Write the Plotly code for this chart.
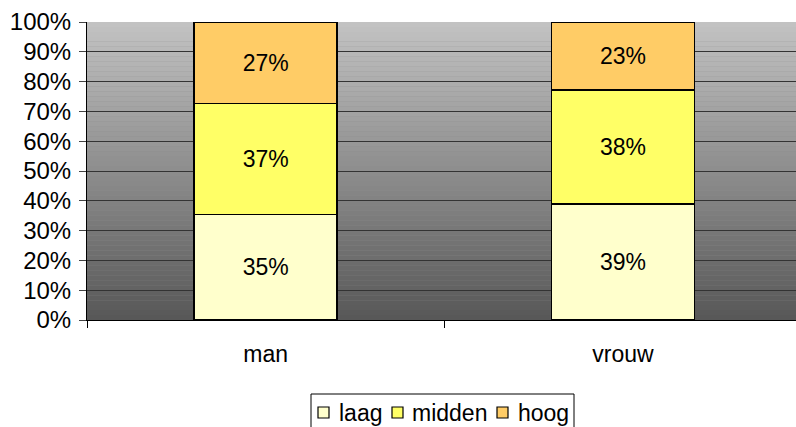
import plotly.graph_objects as go

categories = ["man", "vrouw"]
laag = [35.4, 38.9]
midden = [37.2, 38.2]
hoog = [27.4, 22.9]
series_names = ["laag", "midden", "hoog"]
series_colors = ["#FFFFCC", "#FFFF66", "#FFCC66"]
y_ticks = [0, 10, 20, 30, 40, 50, 60, 70, 80, 90, 100]
y_ticktext = [f"{v}%" for v in y_ticks]

FONT = "Liberation Sans, Arial, sans-serif"

W, H = 796, 427
ML, MR, MT, MB = 87, 0, 22, 107
PW, PH = W - ML - MR, H - MT - MB


def px_x(p):
    return (p - ML) / PW


def px_y(p):
    return (H - MB - p) / PH


fig = go.Figure()
for name, vals, col in zip(series_names, [laag, midden, hoog], series_colors):
    fig.add_trace(go.Bar(
        x=categories, y=vals, name=name,
        marker=dict(color=col, line=dict(color="#000000", width=1.6)),
        width=0.4,
        text=[f"{round(v)}%" for v in vals],
        textposition="inside", insidetextanchor="middle", textangle=0,
        textfont=dict(family=FONT, size=23, color="#000000"),
        constraintext="none",
        hoverinfo="skip",
        showlegend=False,
    ))

# gradient background (light top -> dark bottom)
n = 60
shapes = []
top = (194, 194, 194)
bot = (88, 88, 88)
for i in range(n):
    t = i / (n - 1)
    c = tuple(round(bot[k] + (top[k] - bot[k]) * t) for k in range(3))
    shapes.append(dict(
        type="rect", xref="paper", yref="paper",
        x0=0, x1=1, y0=i / n, y1=(i + 1) / n,
        fillcolor=f"rgb{c}", line=dict(width=0), layer="below",
    ))

# legend box (drawn in pixel layout below the plot)
shapes.append(dict(
    type="rect", xref="paper", yref="paper",
    x0=px_x(311), x1=px_x(574), y0=px_y(394), y1=px_y(440),
    fillcolor="#FFFFFF", line=dict(color="#000000", width=1), layer="above",
))
legend_sym_x = [318, 392, 497]
legend_txt_x = [337, 410, 516]
annotations = []
for sx, tx, name, col in zip(legend_sym_x, legend_txt_x, series_names, series_colors):
    shapes.append(dict(
        type="rect", xref="paper", yref="paper",
        x0=px_x(sx), x1=px_x(sx + 11), y0=px_y(418), y1=px_y(407),
        fillcolor=col, line=dict(color="#000000", width=1.2), layer="above",
    ))
    annotations.append(dict(
        xref="paper", yref="paper", x=px_x(tx), y=px_y(412.5),
        xanchor="left", yanchor="middle", showarrow=False,
        text=name, font=dict(family=FONT, size=23, color="#000000"),
    ))

fig.update_layout(
    width=W, height=H,
    margin=dict(l=ML, r=MR, t=MT, b=MB),
    barmode="stack",
    paper_bgcolor="#FFFFFF",
    plot_bgcolor="#8c8c8c",
    shapes=shapes,
    annotations=annotations,
    font=dict(family=FONT, size=23, color="#000000"),
    showlegend=False,
    xaxis=dict(
        range=[-0.5, 1.484],
        tickson="boundaries",
        ticks="outside", ticklen=7, tickcolor="#000000", tickwidth=1,
        showline=True, linecolor="#000000", linewidth=1,
        showgrid=False,
        tickfont=dict(family=FONT, size=23),
        ticklabelstandoff=13,
        automargin=False,
        fixedrange=True,
    ),
    yaxis=dict(
        range=[0, 100],
        tickvals=y_ticks, ticktext=y_ticktext,
        ticks="outside", ticklen=7, tickcolor="#444444", tickwidth=1,
        showline=True, linecolor="#000000", linewidth=1,
        showgrid=True, gridcolor="#333333", gridwidth=1.4,
        zeroline=False,
        tickfont=dict(family=FONT, size=24),
        ticklabelstandoff=3,
        automargin=False,
        fixedrange=True,
    ),
)

fig.write_html(
    "out.html",
    config={"displayModeBar": False},
    post_script="document.body.style.margin='0';document.body.style.overflow='hidden';",
)
